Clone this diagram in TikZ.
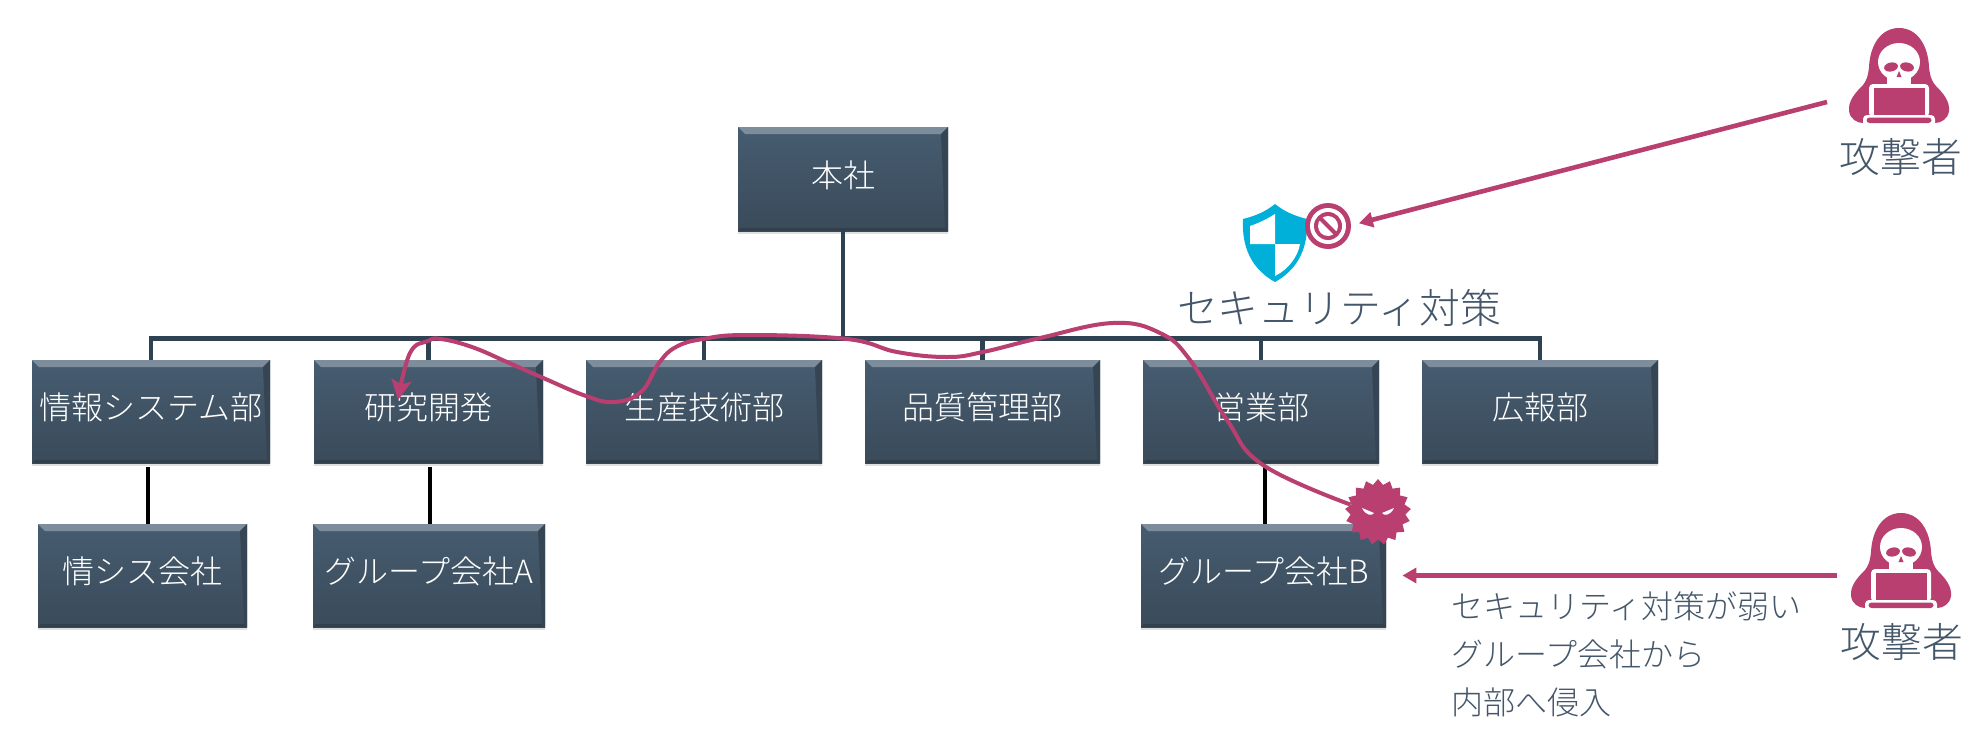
\documentclass[tikz,border=0pt]{standalone}
\usepackage{fontspec}
\setmainfont{Noto Sans CJK JP Light}
\usetikzlibrary{arrows.meta,shadows,shapes.geometric}

\definecolor{boxtop}{HTML}{465C70}
\definecolor{boxbottom}{HTML}{3A4B5A}
\definecolor{busline}{HTML}{2F4252}
\definecolor{attackpink}{HTML}{B83F70}
\definecolor{shieldblue}{HTML}{00B0D8}
\definecolor{labeltext}{HTML}{44566A}

\tikzset{
    orgbox/.style={minimum height=51.5pt, inner sep=0pt, top color=boxtop, bottom color=boxbottom,
        text=white, font=\fontsize{16}{18}\selectfont, text height=14pt, text depth=5.7pt,
        drop shadow={shadow xshift=0pt, shadow yshift=-1.5pt, opacity=0.25},
        path picture={
            \fill[white!30!boxtop] (path picture bounding box.north west) -- (path picture bounding box.north east)
                -- ++(-3.5pt,-3.5pt) -- ([shift={(3.5pt,-3.5pt)}]path picture bounding box.north west) -- cycle;
            \fill[black!15!boxbottom] (path picture bounding box.south west) -- (path picture bounding box.south east)
                -- ++(-1.5pt,1.5pt) -- ([shift={(1.5pt,1.5pt)}]path picture bounding box.south west) -- cycle;
            \fill[black!8!boxbottom] (path picture bounding box.north east) -- (path picture bounding box.south east)
                -- ++(-1.5pt,1.5pt) -- ([shift={(-3.5pt,-3.5pt)}]path picture bounding box.north east) -- cycle;
        }},
    biglabel/.style={inner sep=0pt, text=labeltext, font=\fontsize{20.4}{24}\selectfont},
    notelabel/.style={inner sep=0pt, text=labeltext, align=left, font=\fontsize{16}{24}\selectfont},
    busbar/.style={draw=busline, line width=2.1pt},
    childlink/.style={draw=black, line width=2.2pt, shorten <=2pt},
    attack/.style={draw=attackpink, line width=2.3pt, -{Triangle[length=7pt,width=7.5pt]}},
    intrusion/.style={draw=attackpink, line width=2pt, -{Stealth[length=10pt,width=10pt,inset=2pt]}},
    attackericon/.pic={
        \fill[attackpink] (0,-47) .. controls (-18,-47) and (-29,-30) .. (-30,-8)
            .. controls (-31,2) and (-33,6) .. (-36,10)
            .. controls (-44,18) and (-51,26) .. (-50,36)
            .. controls (-49,44) and (-42,48) .. (-36,48) -- (36,48)
            .. controls (42,48) and (49,44) .. (50,36)
            .. controls (51,26) and (44,18) .. (36,10)
            .. controls (33,6) and (31,2) .. (30,-8)
            .. controls (29,-30) and (18,-47) .. (0,-47) -- cycle;
        \fill[white] (0,-13) ellipse [x radius=21, y radius=19];
        \fill[white] (-12,0) rectangle (12,10);
        \fill[attackpink, rotate around={12:(-8,-8)}] (-8,-8) ellipse [x radius=7, y radius=4.5];
        \fill[attackpink, rotate around={-12:(8,-8)}] (8,-8) ellipse [x radius=7, y radius=4.5];
        \fill[attackpink] (0,-4) -- (-2.5,2) -- (2.5,2) -- cycle;
        \fill[white, rounded corners=2pt] (-30,9) rectangle (30,42);
        \fill[attackpink] (-25.5,13) rectangle (25.5,42);
        \fill[white, rounded corners=2pt] (-36,40) rectangle (36,52);
        \fill[attackpink, rounded corners=1.5pt] (-32.5,42.5) rectangle (32.5,48);
    },
    shieldicon/.pic={
        \fill[shieldblue] (0,-40) .. controls (-10,-32) and (-20,-28) .. (-32,-25)
            .. controls (-33,-5) and (-29,22) .. (0,38)
            .. controls (29,22) and (33,-5) .. (32,-25)
            .. controls (20,-28) and (10,-32) .. (0,-40) -- cycle;
        \fill[white] (0,-30) .. controls (-8,-25) and (-16,-21) .. (-25,-18) -- (-25,0) -- (0,0) -- cycle;
        \fill[white] (0,0) -- (25,0) .. controls (23,12) and (14,25) .. (0,32) -- cycle;
    },
    viruseyes/.pic={
        \fill[white] (-16,-4) -- (-4,1) .. controls (-6,4) and (-12,4) .. (-16,-4) -- cycle;
        \fill[white] (16,-4) -- (4,1) .. controls (6,4) and (12,4) .. (16,-4) -- cycle;
    },
}

\begin{document}
\begin{tikzpicture}[x=0.5pt, y=-0.5pt]
    \useasboundingbox (0,0) rectangle (1986,744);

    \node[orgbox, minimum width=105pt, minimum height=52pt] (honsha) at (843,179) {本社};
    \node[orgbox, minimum width=119pt] (joho) at (151,411.5) {情報システム部};
    \node[orgbox, minimum width=114.5pt] (kenkyu) at (428.5,411.5) {研究開発};
    \node[orgbox, minimum width=118pt] (seisan) at (704,411.5) {生産技術部};
    \node[orgbox, minimum width=117.5pt] (hinshitsu) at (982.5,411.5) {品質管理部};
    \node[orgbox, minimum width=118pt] (eigyo) at (1261,411.5) {営業部};
    \node[orgbox, minimum width=118pt] (koho) at (1540,411.5) {広報部};
    \node[orgbox, minimum width=104.5pt] (johokaisha) at (142.5,575.5) {情シス会社};
    \node[orgbox, minimum width=116pt] (groupA) at (429,575.5) {グループ会社A};
    \node[orgbox, minimum width=122.5pt] (groupB) at (1263.5,575.5) {グループ会社B};

    \foreach \b in {joho,kenkyu,seisan,hinshitsu,eigyo,koho}
        \draw[busbar] (honsha.south) -- ++(0,107) -| (\b.north);
    \draw[childlink] ([xshift=-1.5pt]joho.south) -- ([xshift=2.75pt]johokaisha.north);
    \draw[childlink] ([xshift=0.75pt]kenkyu.south) -- ([xshift=0.5pt]groupA.north);
    \draw[childlink] ([xshift=2pt]eigyo.south) -- ([xshift=0.75pt]groupB.north);

    % attackers
    \pic at (1899,75) {attackericon};
    \pic at (1901,560) {attackericon};
    \node[biglabel] (attackerA) at (1901,157) {攻撃者};
    \node[biglabel] (attackerB) at (1902,642) {攻撃者};
    \coordinate (attackerAout) at (1827,102);
    \coordinate (attackerBout) at (1837,575.5);

    % shield
    \pic at (1275,244) {shieldicon};
    \node[circle, fill=attackpink, minimum size=23pt, inner sep=0pt, outer sep=4pt, path picture={
        \fill[white] (path picture bounding box.center) circle (9pt);
        \fill[attackpink] (path picture bounding box.center) circle (7pt);
        \fill[white] (path picture bounding box.center) circle (5pt);
        \draw[attackpink, line width=2pt] ([shift={(-4pt,4pt)}]path picture bounding box.center) -- ([shift={(4pt,-4pt)}]path picture bounding box.center);
    }] (nosign) at (1328,226) {};
    \node[biglabel] (shieldtext) at (1339,308) {セキュリティ対策};

    \node[notelabel, anchor=west] (note) at (1451,654) {セキュリティ対策が弱い\\グループ会社から\\内部へ侵入};

    % virus
    \node[star, star points=17, star point ratio=1.2, fill=attackpink, minimum size=33pt, inner sep=0pt] (virus) at (1378,512) {};
    \pic at (virus) {viruseyes};
    \coordinate (kenkyuin) at (398,400);

    \draw[attack] (attackerAout) -- (nosign.5);
    \draw[attack] (attackerBout) -- (groupB.east) [shorten >=8pt];
    \draw[intrusion] plot[smooth, tension=0.7] coordinates {(virus.165) (1263,465) (1227,420) (1190,360) (1160,333) (1113,323) (1040,338) (983,352) (947,357) (897,352) (847,339) (748,335) (703,339) (676,347) (659,363) (641,392) (614,402) (586,396) (541,377) (507,362) (472,347) (441,339) (428,341) (410,353) (kenkyuin)};
\end{tikzpicture}
\end{document}
